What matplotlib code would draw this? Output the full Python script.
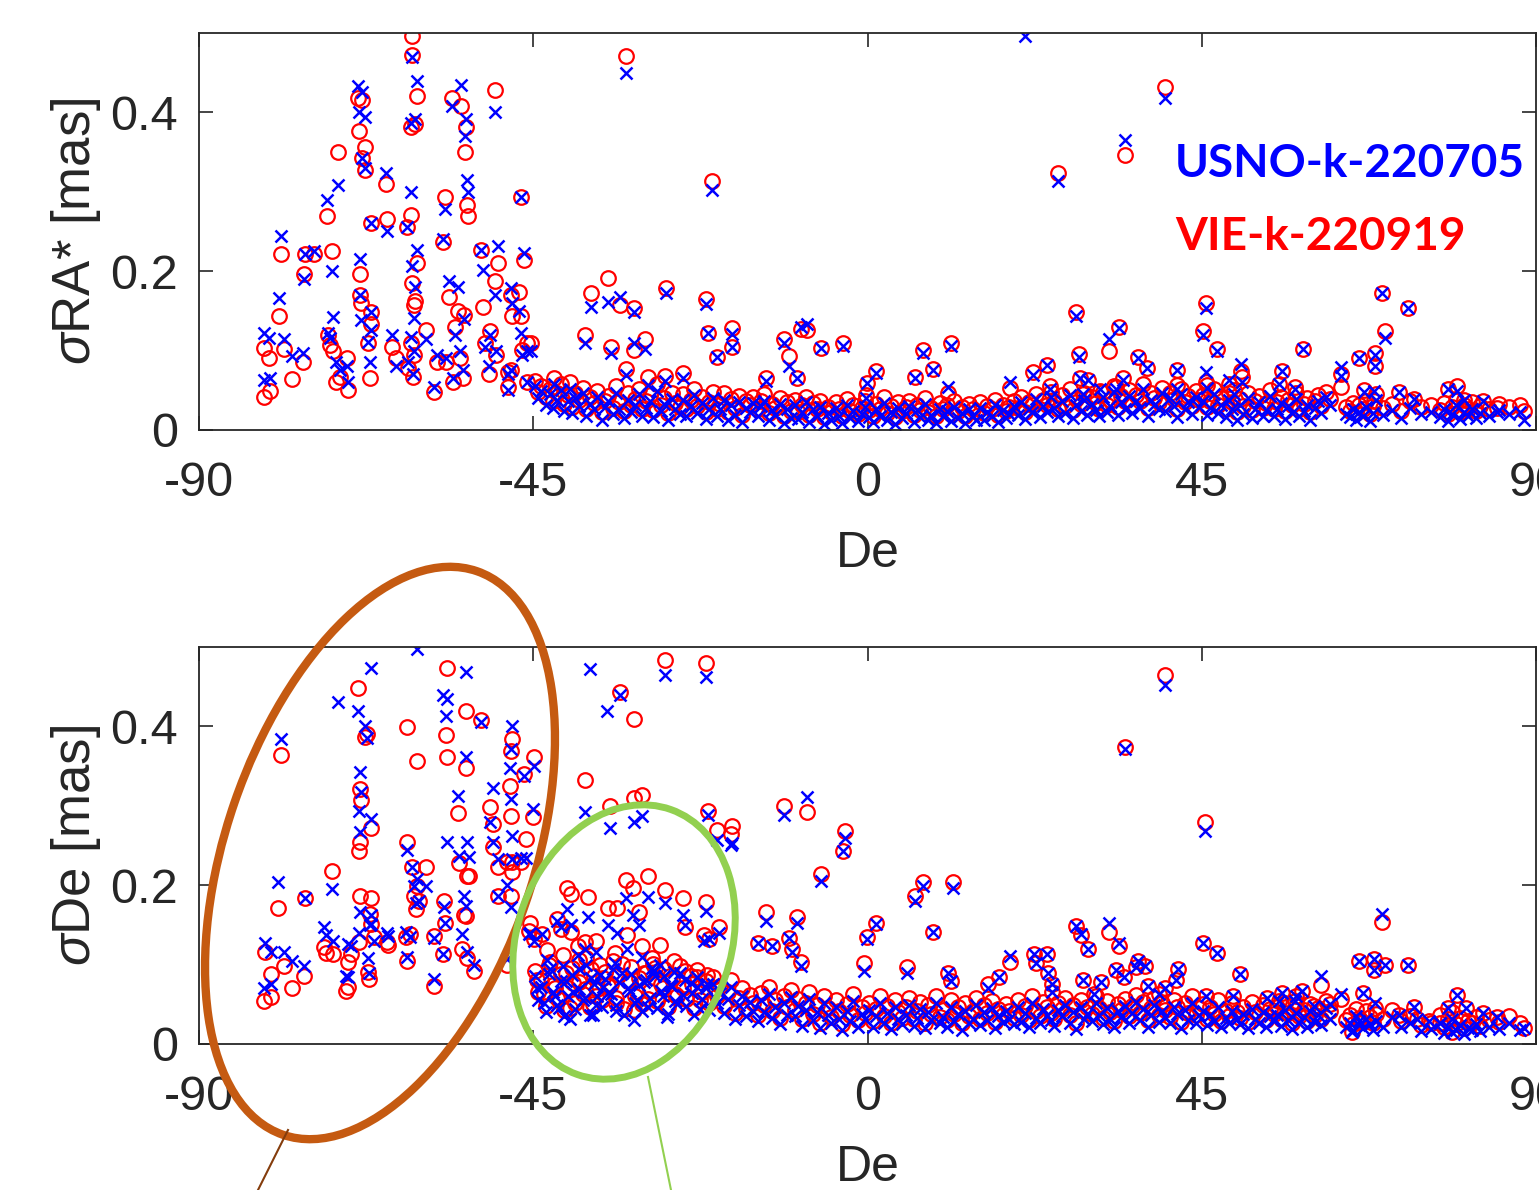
import numpy as np
import matplotlib
matplotlib.use('Agg')
import matplotlib.pyplot as plt
from matplotlib.patches import Ellipse

plt.rcParams['font.family'] = ['Liberation Sans', 'DejaVu Sans']
plt.rcParams['mathtext.fontset'] = 'custom'
plt.rcParams['mathtext.it'] = 'Liberation Sans:italic'
plt.rcParams['mathtext.rm'] = 'Liberation Sans'

# ---- sources with small formal errors (shared declinations, both panels) ----
band_dec = [
    -44.8, -44.3, -43.9, -43.3, -42.8, -42.4, -41.8, -41.3, -40.9, -40.3,
    -39.8, -39.4, -38.8, -38.3, -37.9, -37.3, -36.8, -36.4, -35.8, -35.3,
    -34.9, -34.3, -33.8, -33.4, -32.8, -32.3, -31.9, -31.3, -30.8, -30.4,
    -29.8, -29.3, -28.9, -28.3, -27.8, -27.4, -26.8, -26.3, -25.9, -25.3,
    -24.8, -24.4, -23.8, -23.3, -22.9, -22.3, -21.8, -21.4, -20.8, -20.3,
    -19.9, -19.3, -18.8, -18.4, -17.8, -17.3, -16.9, -16.3, -15.8, -15.4,
    -14.8, -14.3, -13.9, -13.3, -12.8, -12.4, -11.8, -11.3, -10.9, -10.3,
    -9.8, -9.4, -8.8, -8.3, -7.9, -7.3, -6.8, -6.4, -5.8, -5.3,
    -4.9, -4.3, -3.8, -3.4, -2.8, -2.3, -1.9, -1.3, -0.8, -0.4,
    0.2, 0.7, 1.1, 1.7, 2.2, 2.6, 3.2, 3.7, 4.1, 4.7,
    5.2, 5.6, 6.2, 6.7, 7.1, 7.7, 8.2, 8.6, 9.2, 9.7,
    10.1, 10.7, 11.2, 11.6, 12.2, 12.7, 13.1, 13.7, 14.2, 14.6,
    15.2, 15.7, 16.1, 16.7, 17.2, 17.6, 18.2, 18.7, 19.1, 19.7,
    20.2, 20.6, 21.2, 21.7, 22.1, 22.7, 23.2, 23.6, 24.2, 24.7,
    25.1, 25.7, 26.2, 26.6, 27.2, 27.7, 28.1, 28.7, 29.2, 29.6,
    30.2, 30.7, 31.1, 31.7, 32.2, 32.6, 33.2, 33.7, 34.1, 34.7,
    35.2, 35.6, 36.2, 36.7, 37.1, 37.7, 38.2, 38.6, 39.2, 39.7,
    40.1, 40.7, 41.2, 41.6, 42.2, 42.7, 43.1, 43.7, 44.2, 44.6,
    45.2, 45.7, 46.1, 46.7, 47.2, 47.6, 48.2, 48.7, 49.1, 49.7,
    50.2, 50.6, 51.2, 51.7, 52.1, 52.7, 53.2, 53.6, 54.2, 54.7,
    55.1, 55.7, 56.2, 56.6, 57.2, 57.7, 58.1, 58.7, 59.2, 59.6,
    60.2, 60.7, 61.1, 61.7, 62.2, 64.4, 64.9, 65.3, 65.8, 66.2,
    66.7, 67.1, 67.6, 68.0, 68.5, 69.4, 70.6, 71.8, 73.0, 74.5,
    75.8, 77.0, 77.6, 78.1, 78.7, 79.2, 79.8, 80.3, 80.9, 81.4,
    81.9, 82.5, 83.6, 85.0, 86.3, 87.9,
]
band_ra_usno = [
    .055, .040, .049, .032, .045, .028, .038, .050, .024, .036,
    .021, .040, .030, .046, .017, .033, .027, .041, .013, .029,
    .036, .020, .047, .027, .015, .038, .023, .032, .045, .018,
    .028, .037, .016, .049, .024, .033, .012, .039, .026, .020,
    .038, .017, .030, .044, .021, .034, .014, .027, .040, .018,
    .026, .038, .013, .031, .019, .035, .010, .028, .022, .034,
    .017, .030, .037, .012, .025, .019, .033, .009, .027, .015,
    .031, .014, .023, .035, .010, .027, .018, .029, .008, .021,
    .013, .028, .017, .009, .032, .015, .024, .011, .020, .029,
    .016, .010, .026, .018, .034, .012, .022, .008, .028, .015,
    .021, .030, .010, .025, .016, .033, .013, .019, .009, .027,
    .017, .024, .011, .029, .015, .021, .009, .026, .018, .013,
    .028, .012, .022, .017, .031, .010, .025, .015, .020, .030,
    .019, .035, .014, .027, .022, .039, .016, .030, .023, .041,
    .028, .018, .037, .021, .044, .015, .031, .024, .038, .019,
    .033, .025, .017, .041, .023, .030, .048, .019, .035, .027,
    .043, .021, .036, .028, .051, .018, .038, .031, .026, .046,
    .024, .040, .030, .016, .045, .026, .035, .020, .042, .029,
    .036, .019, .028, .045, .021, .032, .016, .038, .026, .013,
    .031, .020, .040, .015, .027, .035, .018, .025, .043, .017,
    .027, .034, .014, .030, .021, .039, .017, .024, .032, .012,
    .028, .037, .021, .041, .031, .020, .016, .026, .012, .022,
    .017, .029, .011, .021, .038, .019, .025, .015, .028, .020,
    .023, .016, .026, .011, .020, .031, .014, .022, .017, .027,
    .015, .021, .018, .025, .020, .023,
]
band_ra_vie = [
    .062, .048, .055, .041, .052, .036, .046, .058, .033, .044,
    .029, .047, .038, .053, .026, .041, .034, .049, .022, .037,
    .043, .028, .055, .035, .024, .046, .031, .039, .052, .027,
    .036, .044, .025, .058, .032, .040, .021, .047, .034, .029,
    .045, .026, .038, .052, .030, .041, .023, .035, .048, .027,
    .033, .046, .022, .039, .028, .043, .019, .036, .031, .041,
    .026, .037, .045, .021, .033, .028, .040, .018, .035, .024,
    .038, .023, .031, .042, .019, .034, .027, .036, .016, .029,
    .022, .035, .026, .017, .039, .024, .031, .020, .028, .036,
    .025, .018, .033, .027, .041, .021, .030, .016, .035, .024,
    .029, .037, .019, .032, .025, .040, .022, .028, .017, .034,
    .026, .031, .020, .036, .024, .029, .018, .033, .027, .022,
    .035, .021, .030, .026, .038, .019, .032, .024, .029, .037,
    .028, .042, .023, .035, .031, .045, .026, .038, .032, .048,
    .036, .027, .044, .030, .051, .025, .039, .033, .046, .029,
    .041, .034, .027, .048, .032, .038, .055, .029, .043, .036,
    .050, .031, .044, .037, .058, .028, .046, .040, .035, .053,
    .033, .047, .039, .026, .052, .035, .043, .030, .049, .038,
    .044, .029, .037, .052, .031, .040, .026, .046, .035, .023,
    .039, .030, .047, .025, .036, .043, .028, .034, .050, .027,
    .035, .042, .024, .038, .031, .046, .027, .033, .040, .022,
    .036, .044, .030, .048, .039, .029, .024, .034, .021, .031,
    .026, .037, .020, .030, .045, .028, .033, .024, .036, .029,
    .031, .025, .034, .020, .029, .038, .023, .031, .026, .035,
    .024, .030, .027, .033, .029, .031,
]
band_de_usno = [
    .085, .056, .072, .040, .095, .066, .049, .079, .035, .061,
    .087, .044, .069, .055, .099, .037, .076, .060, .046, .082,
    .064, .095, .049, .078, .036, .070, .088, .052, .074, .041,
    .080, .058, .092, .045, .067, .085, .038, .073, .054, .089,
    .062, .048, .077, .037, .084, .057, .070, .043, .075, .051,
    .064, .039, .057, .072, .031, .049, .061, .035, .053, .042,
    .029, .055, .040, .063, .033, .046, .025, .052, .037, .059,
    .035, .048, .023, .043, .057, .030, .040, .020, .051, .036,
    .026, .047, .032, .018, .041, .029, .054, .022, .038, .031,
    .043, .021, .035, .052, .027, .039, .019, .046, .032, .025,
    .037, .049, .023, .033, .044, .020, .040, .030, .051, .026,
    .034, .022, .046, .029, .038, .018, .042, .027, .032, .049,
    .024, .040, .030, .045, .020, .035, .028, .041, .032, .025,
    .046, .028, .039, .022, .051, .033, .027, .044, .037, .030,
    .023, .043, .035, .049, .027, .040, .019, .046, .032, .038,
    .029, .052, .036, .025, .045, .031, .021, .041, .034, .048,
    .027, .039, .053, .030, .044, .022, .036, .049, .028, .042,
    .034, .026, .047, .038, .020, .043, .030, .051, .027, .036,
    .041, .024, .037, .029, .046, .021, .033, .027, .042, .031,
    .025, .038, .020, .044, .031, .027, .040, .022, .035, .029,
    .037, .023, .043, .030, .019, .039, .026, .034, .021, .041,
    .028, .036, .024, .045, .032, .022, .027, .017, .035, .024,
    .020, .032, .025, .018, .029, .022, .034, .021, .026, .016,
    .019, .027, .014, .022, .031, .017, .024, .013, .020, .018,
    .025, .016, .021, .019, .026, .018,
]
band_de_vie = [
    .092, .065, .081, .048, .103, .074, .058, .088, .043, .070,
    .096, .052, .078, .063, .108, .046, .085, .069, .055, .091,
    .073, .104, .058, .087, .044, .079, .097, .061, .083, .050,
    .089, .067, .101, .054, .076, .094, .047, .082, .063, .098,
    .071, .057, .086, .045, .093, .066, .079, .052, .084, .060,
    .073, .048, .066, .081, .039, .058, .070, .044, .062, .051,
    .037, .064, .049, .072, .041, .055, .033, .061, .046, .068,
    .043, .057, .031, .052, .066, .038, .049, .027, .060, .045,
    .034, .056, .041, .025, .050, .037, .063, .030, .047, .039,
    .052, .029, .044, .061, .035, .048, .026, .055, .040, .033,
    .046, .058, .031, .042, .053, .027, .049, .038, .060, .034,
    .043, .030, .055, .038, .047, .026, .051, .035, .041, .058,
    .032, .049, .039, .054, .028, .044, .036, .050, .041, .033,
    .055, .037, .048, .030, .060, .042, .035, .053, .046, .039,
    .031, .052, .044, .058, .036, .049, .027, .055, .041, .047,
    .038, .061, .045, .033, .054, .040, .029, .050, .043, .057,
    .035, .048, .062, .039, .053, .030, .045, .058, .037, .051,
    .043, .034, .056, .047, .028, .052, .039, .060, .036, .045,
    .050, .032, .046, .038, .055, .029, .042, .035, .051, .040,
    .033, .047, .028, .053, .040, .036, .049, .030, .044, .038,
    .046, .031, .052, .039, .027, .048, .035, .043, .029, .050,
    .037, .045, .032, .054, .041, .030, .036, .025, .044, .033,
    .028, .041, .034, .026, .038, .031, .043, .029, .035, .024,
    .027, .036, .022, .031, .040, .025, .033, .020, .029, .026,
    .034, .023, .030, .028, .035, .026,
]

# ---- sigma RA* : remaining sources (south + outliers) ----
ra_out_dec = [
    -81.2, -80.6, -81.3, -80.4, -79.2, -79.0, -78.5, -77.5, -76.0, -75.7,
    -75.8, -74.5, -72.8, -72.1, -71.3, -72.6, -72.4, -71.9, -71.5, -71.0,
    -70.0, -70.1, -68.6, -68.0, -68.4, -67.6, -68.1, -67.6, -68.3, -68.3,
    -68.2, -66.8, -66.9, -67.3, -67.0, -66.8, -64.8, -64.7, -64.0, -63.5,
    -62.0, -61.4, -61.3, -61.3, -60.6, -61.5, -60.9, -60.6, -61.3, -60.9,
    -61.0, -61.5, -61.0, -61.8, -61.2, -59.4, -58.3, -58.0, -56.9, -57.1,
    -56.4, -56.0, -54.7, -54.1, -54.2, -53.9, -53.8, -55.1, -54.3, -55.5,
    -54.8, -55.8, -54.5, -56.8, -52.0, -50.2, -49.7, -51.7, -50.2, -50.8,
    -51.5, -50.0, -51.0, -48.0, -47.8, -46.6, -46.2, -46.9, -46.6, -45.9,
    -46.5, -48.0, -48.4, -48.4, -45.3, -45.8, -35.0, -37.2, -33.3, -31.4,
    -27.1, -21.8, -38.1, -34.6, -31.4, -30.0, -21.5, -18.3, -18.3, -20.2,
    -32.5, -27.3, -24.9, -29.6, -40.0, -42.2, -8.9, -8.2, -11.3, -10.6,
    -9.5, -6.3, -3.3, 1.2, -0.1, -0.2, 7.4, 11.3, 8.8, 6.4,
    -13.7, 10.8, 19.2, 22.3, -32.5, -21.0, 21.2, 25.6, 34.7, 40.1,
    28.1, 32.5, 33.9, 28.5, 24.2, 28.6, 29.7, 29.0, 24.5, 36.4,
    37.6, 34.4, 33.4, 31.3, 45.6, 45.2, 47.0, 45.6, 45.7, 41.6,
    41.6, 50.3, 50.4, 48.6, 49.4, 55.8, 55.4, 58.6, 57.5, 63.8,
    63.8, 66.2, 68.3, 68.3, 69.3, 72.7, 69.7, 66.8, 68.2, 71.5,
    73.6, 78.1, 79.4, 80.3, 82.8, 84.7, 88.4,
]
ra_out_usno = [
    .122, .116, .063, .065, .166, .244, .115, .093, .097, .222,
    .190, .225, .289, .200, .308, .122, .116, .142, .085, .076,
    .060, .080, .433, .426, .400, .394, .343, .330, .215, .170,
    .139, .148, .126, .111, .085, .261, .323, .250, .120, .080,
    .255, .300, .470, .520, .440, .386, .392, .227, .206, .180,
    .141, .117, .100, .085, .070, .115, .054, .095, .278, .240,
    .187, .408, .435, .392, .370, .315, .300, .180, .140, .120,
    .100, .065, .075, .090, .227, .400, .232, .202, .170, .120,
    .105, .100, .080, .179, .160, .293, .223, .150, .122, .100,
    .095, .075, .070, .050, .100, .060, .161, .155, .167, .148,
    .173, .159, .109, .097, .110, .102, .122, .121, .105, .092,
    .069, .062, .066, .057, .052, .058, .130, .134, .110, .080,
    .066, .103, .106, .072, .059, .040, .097, .106, .075, .066,
    .062, .054, .061, .069, .449, .302, .496, .313, .365, .418,
    .143, .114, .129, .092, .082, .065, .063, .045, .052, .090,
    .078, .063, .052, .052, .154, .120, .100, .073, .053, .075,
    .052, .083, .060, .063, .045, .074, .058, .102, .052, .079,
    .068, .091, .095, .080, .172, .153, .116, .048, .049, .048,
    .039, .051, .049, .038, .036, .023, .012,
]
ra_out_vie = [
    .103, .090, .042, .049, .144, .222, .102, .064, .086, .222,
    .197, .222, .270, .225, .350, .120, .107, .100, .060, .067,
    .050, .091, .418, .415, .377, .356, .343, .327, .196, .170,
    .160, .148, .134, .109, .066, .261, .310, .266, .105, .090,
    .256, .271, .472, .496, .420, .381, .385, .210, .185, .162,
    .157, .110, .095, .078, .067, .126, .048, .086, .294, .237,
    .168, .418, .408, .382, .350, .283, .269, .150, .145, .130,
    .090, .060, .066, .085, .227, .428, .210, .155, .188, .125,
    .110, .095, .070, .170, .144, .293, .214, .174, .143, .110,
    .101, .076, .073, .054, .110, .060, .192, .172, .158, .154,
    .179, .165, .120, .105, .101, .114, .122, .129, .105, .092,
    .077, .068, .072, .067, .060, .066, .127, .126, .115, .093,
    .066, .103, .109, .074, .059, .044, .101, .109, .077, .067,
    .066, .047, .053, .073, .471, .314, .530, .323, .346, .432,
    .149, .100, .130, .096, .082, .065, .063, .045, .055, .092,
    .078, .065, .054, .049, .160, .124, .102, .060, .057, .075,
    .057, .074, .067, .058, .050, .074, .058, .102, .054, .071,
    .054, .091, .097, .081, .172, .153, .124, .050, .037, .048,
    .039, .051, .055, .038, .036, .028, .024,
]

# ---- sigma De : remaining sources (south + outliers + -45..-20 cloud) ----
de_out_dec = [
    -81.1, -80.3, -81.2, -80.3, -79.4, -79.0, -78.5, -77.5, -75.7, -75.8,
    -73.2, -72.9, -72.1, -72.0, -71.3, -70.0, -69.6, -70.2, -70.0, -68.6,
    -67.6, -68.3, -68.2, -68.4, -68.3, -68.5, -66.8, -67.4, -66.9, -68.3,
    -66.8, -66.9, -67.3, -67.1, -67.0, -66.5, -64.7, -64.5, -62.0, -62.0,
    -62.1, -62.0, -61.6, -60.6, -61.3, -60.6, -61.0, -60.8, -60.4, -60.6,
    -59.4, -58.3, -58.3, -56.6, -57.1, -56.8, -57.0, -56.9, -57.2, -56.6,
    -55.1, -55.0, -54.0, -54.0, -53.9, -53.6, -54.3, -54.0, -54.6, -53.9,
    -52.0, -53.0, -50.4, -50.4, -50.8, -49.7, -49.7, -47.9, -48.0, -48.1,
    -48.0, -47.9, -48.0, -47.8, -45.1, -46.6, -46.2, -44.9, -46.0, -45.5,
    -45.6, -48.5, -48.6, -34.7, -21.5, -11.3, -8.2, -38.1, -31.4, -33.3,
    -37.3, -35.1, -31.5, -27.2, -21.8, -30.4, -20.2, -18.2, -18.4, -3.1,
    -3.3, -6.3, -13.7, -9.5, 7.4, 6.4, 11.5, 8.8, 1.2, -0.1,
    19.2, -14.8, -12.8, -10.6, -10.2, -9.0, -0.5, 5.3, 10.8, 11.3,
    16.2, 17.7, -40.4, -39.9, -37.6, -32.5, -31.6, -29.6, -27.3, -24.9,
    -21.8, -35.0, -33.7, -30.8, -24.6, -41.8, -41.3, -39.9, -38.1, -36.5,
    -43.8, -44.9, -22.0, -20.0, -21.4, -32.4, -30.4, -28.0, 34.7, 40.1,
    45.4, 28.1, 28.7, 29.7, 32.5, 33.9, 22.4, 24.1, 22.7, 24.3,
    24.8, 24.8, 29.0, 31.4, 30.5, 33.4, 34.5, 36.4, 37.4, 36.2,
    41.8, 41.5, 37.7, 40.0, 39.2, 45.2, 47.0, 45.6, 50.2, 49.2,
    53.8, 55.8, 57.7, 58.5, 55.4, 57.6, 61.0, 60.1, 62.2, 63.7,
    66.2, 68.2, 68.2, 69.7, 72.7, 69.3, 66.7, 68.3, 73.6, 71.5,
    74.0, 79.4, 78.1, 80.5, 82.9, 84.7, 88.4, 75.6, 77.1, 78.7,
    66.1, 65.2,
    -44.5, -43.6, -42.9, -42.1, -41.5, -40.6, -39.6, -38.9, -38.0, -37.2,
    -36.6, -35.6, -34.6, -33.9, -33.1, -32.0, -31.1, -30.1, -29.5, -28.6,
    -27.6, -26.6, -25.6, -24.6, -23.6, -22.6, -21.6, -20.6, -43.2, -41.0,
    -39.0, -36.0, -34.0, -29.0, -26.0, -23.0, -40.0, -37.0, -31.5, -27.0,
]
de_out_usno = [
    .127, .116, .070, .075, .204, .384, .116, .104, .184, .098,
    .147, .137, .195, .130, .431, .126, .123, .086, .084, .420,
    .401, .342, .318, .294, .166, .140, .473, .385, .283, .267,
    .163, .151, .108, .090, .150, .130, .140, .136, .244, .530,
    .141, .109, .135, .498, .223, .208, .199, .177, .180, .540,
    .199, .082, .134, .434, .439, .413, .172, .153, .113, .254,
    .312, .237, .469, .361, .254, .235, .186, .174, .138, .116,
    .405, .100, .323, .254, .279, .233, .186, .400, .371, .348,
    .309, .233, .172, .262, .296, .234, .337, .350, .234, .140,
    .138, .200, .107, .272, .289, .289, .311, .292, .279, .440,
    .472, .420, .530, .465, .462, .287, .257, .253, .250, .259,
    .243, .205, .155, .152, .199, .180, .196, .141, .151, .132,
    .111, .127, .123, .133, .116, .098, .092, .090, .090, .079,
    .070, .084, .170, .150, .160, .184, .162, .185, .177, .162,
    .168, .150, .140, .150, .150, .155, .147, .150, .120, .116,
    .138, .130, .130, .140, .132, .120, .110, .100, .372, .452,
    .268, .148, .139, .120, .153, .127, .113, .113, .102, .089,
    .076, .065, .080, .078, .063, .093, .084, .104, .098, .097,
    .094, .080, .073, .070, .063, .127, .114, .060, .088, .061,
    .058, .064, .061, .067, .054, .054, .086, .048, .050, .063,
    .104, .107, .093, .099, .099, .164, .064, .051, .046, .037,
    .031, .062, .045, .045, .039, .034, .020, .029, .026, .015,
    .029, .015,
    .070, .052, .088, .061, .045, .079, .066, .094, .058, .083,
    .049, .072, .063, .041, .090, .067, .055, .078, .046, .085,
    .060, .074, .050, .081, .064, .044, .076, .058, .106, .098,
    .112, .087, .102, .096, .091, .072, .032, .036, .030, .034,
]
de_out_vie = [
    .116, .088, .054, .059, .171, .364, .098, .070, .184, .086,
    .122, .114, .218, .113, .520, .103, .113, .067, .072, .448,
    .387, .321, .307, .243, .186, .128, .540, .390, .272, .254,
    .184, .151, .091, .082, .164, .135, .128, .125, .254, .399,
    .135, .104, .138, .550, .223, .199, .186, .170, .180, .356,
    .223, .073, .136, .473, .520, .389, .180, .153, .113, .362,
    .291, .228, .420, .348, .211, .211, .163, .161, .120, .108,
    .408, .092, .277, .248, .298, .223, .186, .384, .369, .325,
    .287, .229, .186, .216, .286, .229, .340, .362, .258, .153,
    .142, .229, .100, .300, .294, .300, .292, .332, .310, .443,
    .520, .550, .409, .484, .480, .314, .269, .275, .264, .268,
    .243, .214, .166, .160, .204, .186, .204, .141, .153, .135,
    .103, .127, .123, .133, .120, .103, .102, .097, .090, .079,
    .075, .084, .196, .189, .185, .206, .197, .211, .194, .184,
    .179, .171, .171, .166, .147, .157, .145, .141, .128, .130,
    .138, .132, .137, .147, .132, .137, .123, .125, .374, .465,
    .279, .148, .137, .120, .141, .124, .113, .113, .102, .089,
    .076, .065, .080, .078, .063, .093, .084, .104, .098, .097,
    .094, .080, .073, .070, .063, .127, .114, .060, .088, .061,
    .058, .064, .061, .067, .054, .054, .074, .048, .050, .057,
    .104, .107, .093, .099, .099, .154, .064, .045, .046, .037,
    .031, .062, .045, .045, .039, .034, .020, .029, .026, .015,
    .029, .015,
    .080, .063, .099, .070, .058, .090, .077, .106, .069, .094,
    .060, .083, .075, .052, .101, .078, .066, .089, .057, .096,
    .071, .085, .061, .092, .075, .055, .087, .069, .118, .112,
    .124, .099, .115, .108, .104, .084, .045, .050, .043, .047,
]

solutions = ['USNO-k-220705', 'VIE-k-220919']
x_ticks = [-90, -45, 0, 45, 90]
y_ticks = [0, 0.2, 0.4]
y_tick_labels = ['0', '0.2', '0.4']

ink = '#262626'
fig = plt.figure(figsize=(15.39, 11.90), dpi=100)
ax_ra = fig.add_axes([0.1293, 0.6387, 0.8688, 0.3336])
ax_de = fig.add_axes([0.1293, 0.1227, 0.8688, 0.3336])

panels = [
    (ax_ra, band_ra_usno + ra_out_usno, band_ra_vie + ra_out_vie,
     band_dec + ra_out_dec, r'$\sigma$RA* [mas]'),
    (ax_de, band_de_usno + de_out_usno, band_de_vie + de_out_vie,
     band_dec + de_out_dec, r'$\sigma$De [mas]'),
]

for ax, s_usno, s_vie, dec, ylab in panels:
    dec = np.asarray(dec)
    ax.plot(dec, s_vie, 'o', mfc='none', mec='#ff0000', ms=10.5, mew=1.6)
    ax.plot(dec, s_usno, 'x', color='#0000ff', ms=8.5, mew=1.8)
    ax.set_xlim(-90, 90)
    ax.set_ylim(0, 0.5)
    ax.set_xticks(x_ticks)
    ax.set_xticklabels([str(t) for t in x_ticks])
    ax.set_yticks(y_ticks)
    ax.set_yticklabels(y_tick_labels)
    ax.tick_params(direction='in', length=10, width=1.2, colors=ink,
                   labelsize=35, top=True, right=True)
    ax.tick_params(axis='x', pad=22)
    ax.tick_params(axis='y', pad=15)
    for sp in ax.spines.values():
        sp.set_color(ink)
        sp.set_linewidth(1.3)
    ax.set_xlabel('De', fontsize=36, color=ink)
    ax.xaxis.set_label_coords(0.5, -0.255)
    ax.set_ylabel(ylab, fontsize=38, color=ink)
    ax.yaxis.set_label_coords(-0.072, 0.5)

# legend-like labels
fig.text(1175 / 1539, 1 - 177 / 1190, solutions[0], color='#0000ff',
         fontsize=33, fontweight='bold', family='Lato', va='baseline')
fig.text(1175 / 1539, 1 - 250 / 1190, solutions[1], color='#ff0000',
         fontsize=33, fontweight='bold', family='Lato', va='baseline')

# hand-drawn annotation ellipses (figure pixel space)
over = fig.add_axes([0, 0, 1, 1])
over.set_xlim(0, 1539)
over.set_ylim(1190, 0)
over.axis('off')
over.add_patch(Ellipse((380, 853), 308, 596, angle=19, fill=False,
                       ec='#c55a11', lw=6))
over.add_patch(Ellipse((624, 942), 214, 281, angle=19.5, fill=False,
                       ec='#92d050', lw=5))
over.plot([288, 258], [1130, 1190], color='#843c0c', lw=1.5)
over.plot([648, 671], [1077, 1190], color='#92d050', lw=1.5)

fig.savefig('out.png', dpi=100)
